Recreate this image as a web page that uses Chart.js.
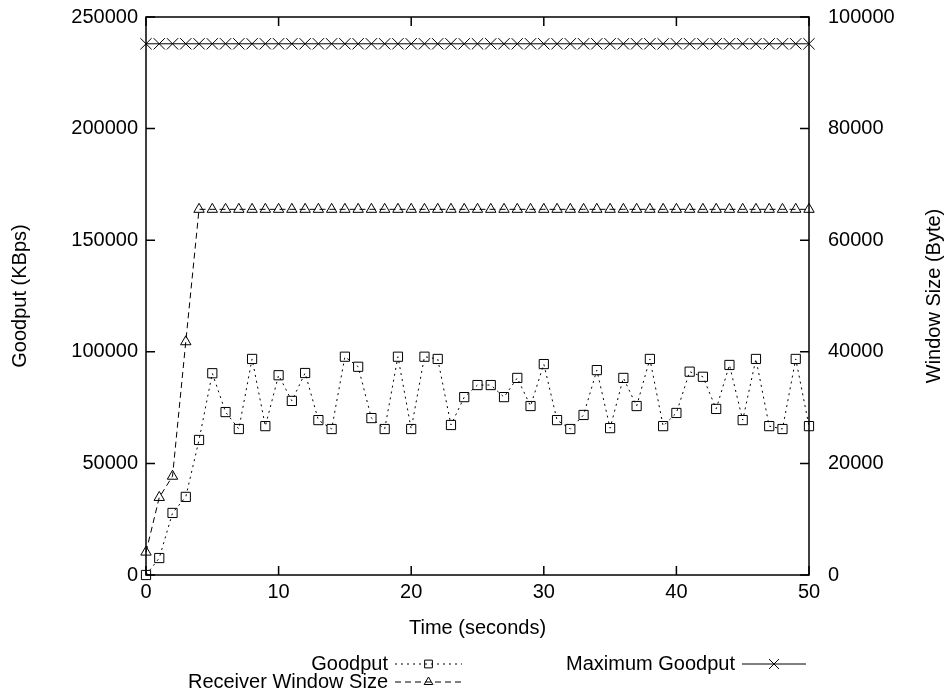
<!DOCTYPE html>
<html>
<head>
<meta charset="utf-8">
<script src="https://cdn.jsdelivr.net/npm/chart.js@4.4.0/dist/chart.umd.min.js"></script>
<style>
  html, body { margin: 0; padding: 0; background: #fff; }
  #wrap { width: 947px; height: 698px; }
</style>
</head>
<body>
<div id="wrap"><canvas id="goodputChart" width="947" height="698"></canvas></div>
<script>
// time in seconds
const timeSec = [0, 1, 2, 3, 4, 5, 6, 7, 8, 9, 10, 11, 12, 13, 14, 15, 16, 17, 18, 19, 20,
  21, 22, 23, 24, 25, 26, 27, 28, 29, 30, 31, 32, 33, 34, 35, 36, 37, 38, 39, 40,
  41, 42, 43, 44, 45, 46, 47, 48, 49, 50];

// Goodput (KBps), left axis
const goodput = [0, 7600, 27800, 35000, 60500, 90400, 73000, 65400, 96800, 66700,
  89500, 78000, 90500, 69400, 65400, 97800, 93300, 70300, 65400, 97800,
  65400, 97800, 96800, 67200, 79700, 85100, 85100, 79700, 88300, 75700,
  94500, 69400, 65400, 71700, 91800, 65800, 88300, 75700, 96800, 66700,
  72600, 91100, 88800, 74400, 94100, 69400, 96800, 66700, 65400, 96800, 66700];

// Maximum goodput (KBps), left axis
const maxGoodput = [238000, 238000, 238000, 238000, 238000, 238000, 238000, 238000, 238000, 238000,
  238000, 238000, 238000, 238000, 238000, 238000, 238000, 238000, 238000, 238000,
  238000, 238000, 238000, 238000, 238000, 238000, 238000, 238000, 238000, 238000,
  238000, 238000, 238000, 238000, 238000, 238000, 238000, 238000, 238000, 238000,
  238000, 238000, 238000, 238000, 238000, 238000, 238000, 238000, 238000, 238000, 238000];

// Receiver window size (Byte), right axis
const windowSize = [4100, 13900, 17700, 41800, 65535, 65535, 65535, 65535, 65535, 65535,
  65535, 65535, 65535, 65535, 65535, 65535, 65535, 65535, 65535, 65535,
  65535, 65535, 65535, 65535, 65535, 65535, 65535, 65535, 65535, 65535,
  65535, 65535, 65535, 65535, 65535, 65535, 65535, 65535, 65535, 65535,
  65535, 65535, 65535, 65535, 65535, 65535, 65535, 65535, 65535, 65535, 65535];

const xTicks = [0, 10, 20, 30, 40, 50];
const yTicks = [0, 50000, 100000, 150000, 200000, 250000];
const y2Ticks = [0, 20000, 40000, 60000, 80000, 100000];

const FONT = 'Liberation Sans, Arial, Helvetica, sans-serif';
const FSIZE = 20;
const ink = '#000';
const hollow = 'rgba(0,0,0,0)';

const toPoints = arr => arr.map((v, i) => ({ x: timeSec[i], y: v }));
const plainNum = v => String(v);

// gnuplot style frame, inward ticks, axis titles and legend
const gnuplotDeco = {
    id: 'gnuplotDeco',
    afterDatasetsDraw(chart) {
        const ctx = chart.ctx;
        const a = chart.chartArea;
        const sx = chart.scales.x, sy = chart.scales.y, sy2 = chart.scales.y2;
        const tl = 9;
        ctx.save();
        ctx.strokeStyle = ink;
        ctx.lineWidth = 1.5;
        ctx.setLineDash([]);
        ctx.strokeRect(a.left, a.top, a.right - a.left, a.bottom - a.top);
        ctx.beginPath();
        xTicks.forEach(v => {
            const px = sx.getPixelForValue(v);
            ctx.moveTo(px, a.bottom); ctx.lineTo(px, a.bottom - tl);
            ctx.moveTo(px, a.top); ctx.lineTo(px, a.top + tl);
        });
        yTicks.forEach(v => {
            const py = sy.getPixelForValue(v);
            ctx.moveTo(a.left, py); ctx.lineTo(a.left + tl, py);
        });
        y2Ticks.forEach(v => {
            const py = sy2.getPixelForValue(v);
            ctx.moveTo(a.right, py); ctx.lineTo(a.right - tl, py);
        });
        ctx.stroke();

        // axis titles
        ctx.fillStyle = ink;
        ctx.font = FSIZE + 'px ' + FONT;
        ctx.textAlign = 'center';
        ctx.textBaseline = 'middle';
        ctx.fillText('Time (seconds)', (a.left + a.right) / 2, 628);
        ctx.save();
        ctx.translate(20, (a.top + a.bottom) / 2);
        ctx.rotate(-Math.PI / 2);
        ctx.fillText('Goodput (KBps)', 0, 0);
        ctx.restore();
        ctx.save();
        ctx.translate(934, (a.top + a.bottom) / 2);
        ctx.rotate(-Math.PI / 2);
        ctx.fillText('Window Size (Byte)', 0, 0);
        ctx.restore();

        // legend
        const entries = [
            { ds: chart.data.datasets[0], textRight: 388, x0: 395, x1: 462, y: 664 },
            { ds: chart.data.datasets[1], textRight: 735, x0: 742, x1: 806, y: 664 },
            { ds: chart.data.datasets[2], textRight: 388, x0: 395, x1: 462, y: 682 }
        ];
        entries.forEach(e => {
            ctx.fillStyle = ink;
            ctx.textAlign = 'right';
            ctx.fillText(e.ds.label, e.textRight, e.y);
            ctx.beginPath();
            ctx.lineWidth = 1;
            ctx.setLineDash(e.ds.borderDash || []);
            ctx.moveTo(e.x0, e.y); ctx.lineTo(e.x1, e.y);
            ctx.stroke();
            ctx.setLineDash([]);
            ctx.fillStyle = hollow;
            Chart.helpers.drawPoint(ctx, {
                pointStyle: e.ds.pointStyle,
                radius: e.ds.legendRadius,
                borderWidth: 1
            }, (e.x0 + e.x1) / 2, e.y);
        });
        ctx.restore();
    }
};

const noLabelPad = s => { s.paddingTop = 0; s.paddingBottom = 0; s.paddingLeft = 0; s.paddingRight = 0; };
const noGrid = { display: false, drawTicks: false };

const ctxChart = document.getElementById('goodputChart').getContext('2d');
const chart = new Chart(ctxChart, {
    type: 'line',
    data: {
        datasets: [
            {
                label: 'Goodput',
                data: toPoints(goodput),
                yAxisID: 'y',
                borderColor: ink,
                borderWidth: 1,
                borderDash: [2, 4],
                pointStyle: 'rect',
                pointRadius: 6.5,
                legendRadius: 5.5,
                pointBorderColor: ink,
                pointBackgroundColor: hollow,
                pointBorderWidth: 1,
                clip: false,
                tension: 0
            },
            {
                label: 'Maximum Goodput',
                data: toPoints(maxGoodput),
                yAxisID: 'y',
                borderColor: ink,
                borderWidth: 1,
                pointStyle: 'crossRot',
                pointRadius: 8,
                legendRadius: 7,
                pointBorderColor: ink,
                pointBorderWidth: 1,
                clip: false,
                tension: 0
            },
            {
                label: 'Receiver Window Size',
                data: toPoints(windowSize),
                yAxisID: 'y2',
                borderColor: ink,
                borderWidth: 1,
                borderDash: [6, 4],
                pointStyle: 'triangle',
                pointRadius: 6,
                legendRadius: 5,
                pointBorderColor: ink,
                pointBackgroundColor: hollow,
                pointBorderWidth: 1,
                clip: false,
                tension: 0
            }
        ]
    },
    options: {
        responsive: false,
        animation: false,
        layout: { padding: { top: 17, left: 0, right: 0, bottom: 0 } },
        plugins: {
            legend: { display: false },
            tooltip: { enabled: false }
        },
        scales: {
            x: {
                type: 'linear',
                min: 0,
                max: 50,
                afterFit: s => { noLabelPad(s); s.height = 123; },
                afterBuildTicks: s => { s.ticks = xTicks.map(v => ({ value: v })); },
                grid: noGrid,
                border: { display: false },
                ticks: { color: ink, font: { family: FONT, size: FSIZE }, padding: 5, maxRotation: 0, callback: plainNum }
            },
            y: {
                position: 'left',
                min: 0,
                max: 250000,
                afterFit: s => { noLabelPad(s); s.width = 146; },
                afterBuildTicks: s => { s.ticks = yTicks.map(v => ({ value: v })); },
                grid: noGrid,
                border: { display: false },
                ticks: { color: ink, font: { family: FONT, size: FSIZE }, padding: 8, callback: plainNum }
            },
            y2: {
                position: 'right',
                min: 0,
                max: 100000,
                afterFit: s => { noLabelPad(s); s.width = 138; },
                afterBuildTicks: s => { s.ticks = y2Ticks.map(v => ({ value: v })); },
                grid: noGrid,
                border: { display: false },
                ticks: { color: ink, font: { family: FONT, size: FSIZE }, padding: 19, callback: plainNum }
            }
        }
    },
    plugins: [gnuplotDeco]
});
</script>
</body>
</html>
